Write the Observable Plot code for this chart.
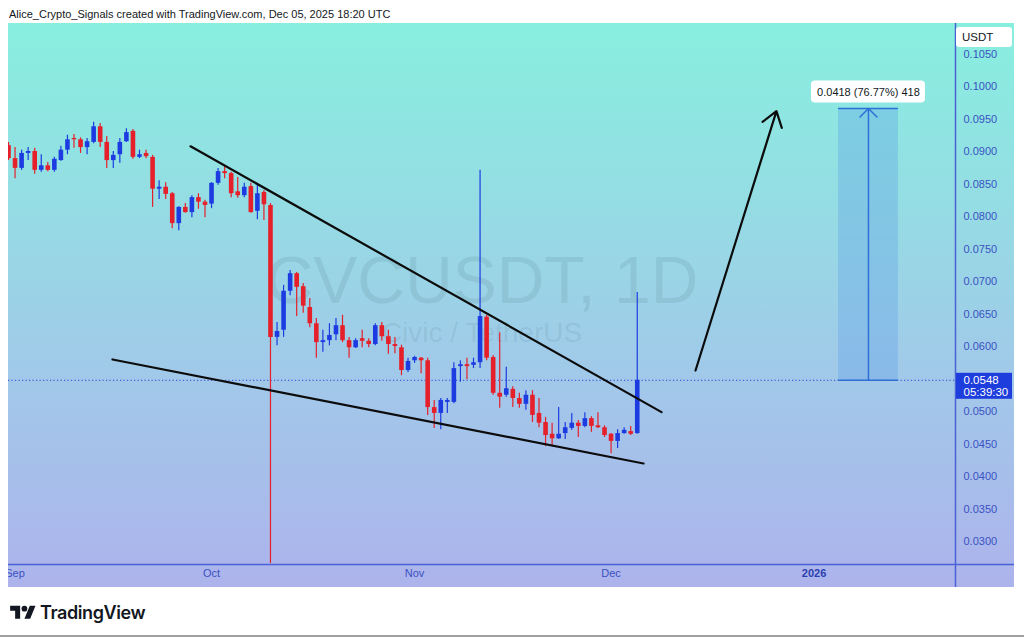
<!DOCTYPE html>
<html>
<head>
<meta charset="utf-8">
<script src="https://cdn.jsdelivr.net/npm/d3@7"></script>
<script src="https://cdn.jsdelivr.net/npm/@observablehq/plot@0.6"></script>
<style>
  html, body { margin:0; padding:0; background:#fff; }
  body { width:1024px; height:638px; position:relative; overflow:hidden; font-family:"Liberation Sans", Arial, sans-serif; }
  #header { position:absolute; left:9px; top:8px; font-size:11px; color:#131722; white-space:nowrap; }
  #chart { position:absolute; left:8px; top:23px; }
  #currency { position:absolute; left:956px; top:27px; width:56px; height:20px; background:#fff; border-radius:3px; font-size:11.5px; line-height:20px; padding-left:6px; box-sizing:border-box; color:#131722; }
  #footer { position:absolute; left:10px; top:602px; display:flex; align-items:center; gap:4px; }
  #footer span { font-family: Inter, "Liberation Sans", sans-serif; font-weight:600; font-size:18px; color:#131722; letter-spacing:-0.4px; }
  #rule { position:absolute; left:0; top:635px; width:1024px; height:2px; background:#a0a0a0; }
</style>
</head>
<body>
<div id="header"></div>
<div id="chart"></div>
<div id="currency"></div>
<div id="footer"><svg width="26" height="20" viewBox="0 0 36 28"><path d="M14 22H7V11H0V4h14v18zM28 22h-8l7.5-18h8L28 22z" fill="#131722"/><circle cx="20" cy="8" r="4" fill="#131722"/></svg><span id="brand"></span></div>
<div id="rule"></div>
<script>
// ---------- data ----------
const headerText = "Alice_Crypto_Signals created with TradingView.com, Dec 05, 2025 18:20 UTC";
const brandText = "TradingView";
const currency = "USDT";
const symbolText = "CVCUSDT, 1D";
const descText = "Civic / TetherUS";
const startDate = "2025-08-31"; // first daily candle

const open = [
  0.0909,0.0889,0.0874,0.0897,0.0900,0.0871,0.0878,0.0871,0.0886,0.0902,
  0.0920,0.0918,0.0906,0.0914,0.0938,0.0914,0.0886,0.0895,0.0915,0.0931,
  0.0891,0.0897,0.0891,0.0842,0.0845,0.0835,0.0789,0.0814,0.0806,0.0829,
  0.0822,0.0819,0.0851,0.0869,0.0866,0.0838,0.0832,0.0846,0.0808,0.0837,
  0.0817,0.0614,0.0625,0.0685,0.0712,0.0692,0.0660,0.0635,0.0606,0.0609,
  0.0618,0.0632,0.0609,0.0598,0.0612,0.0608,0.0603,0.0632,0.0615,0.0603,
  0.0598,0.0563,0.0578,0.0582,0.0578,0.0506,0.0497,0.0514,0.0514,0.0569,
  0.0572,0.0571,0.0575,0.0645,0.0583,0.0528,0.0525,0.0534,0.0520,0.0511,
  0.0525,0.0497,0.0483,0.0465,0.0458,0.0466,0.0474,0.0482,0.0477,0.0489,
  0.0478,0.0475,0.0465,0.0454,0.0466,0.0469,0.0466];
const high = [
  0.0914,0.0906,0.0902,0.0906,0.0905,0.0895,0.0883,0.0891,0.0908,0.0925,
  0.0926,0.0921,0.0920,0.0945,0.0943,0.0923,0.0900,0.0920,0.0935,0.0934,
  0.0902,0.0902,0.0894,0.0855,0.0852,0.0837,0.0815,0.0820,0.0832,0.0835,
  0.0825,0.0852,0.0874,0.0878,0.0868,0.0860,0.0851,0.0851,0.0848,0.0840,
  0.0820,0.0637,0.0694,0.0717,0.0714,0.0697,0.0674,0.0643,0.0625,0.0635,
  0.0643,0.0648,0.0614,0.0612,0.0625,0.0612,0.0635,0.0637,0.0625,0.0614,
  0.0602,0.0582,0.0585,0.0583,0.0582,0.0517,0.0520,0.0520,0.0575,0.0578,
  0.0582,0.0582,0.0871,0.0648,0.0586,0.0621,0.0568,0.0538,0.0528,0.0532,
  0.0532,0.0520,0.0491,0.0482,0.0506,0.0483,0.0497,0.0486,0.0498,0.0492,
  0.0498,0.0478,0.0466,0.0472,0.0475,0.0477,0.0683];
const low = [
  0.0886,0.0858,0.0871,0.0886,0.0865,0.0868,0.0869,0.0868,0.0885,0.0895,
  0.0905,0.0897,0.0895,0.0912,0.0906,0.0874,0.0874,0.0882,0.0914,0.0888,
  0.0889,0.0889,0.0814,0.0826,0.0826,0.0781,0.0778,0.0805,0.0798,0.0811,
  0.0798,0.0812,0.0848,0.0858,0.0829,0.0828,0.0829,0.0805,0.0795,0.0794,
  0.0266,0.0601,0.0614,0.0678,0.0646,0.0651,0.0629,0.0582,0.0591,0.0601,
  0.0609,0.0606,0.0582,0.0597,0.0598,0.0598,0.0601,0.0608,0.0588,0.0589,
  0.0555,0.0560,0.0574,0.0558,0.0494,0.0474,0.0472,0.0497,0.0512,0.0545,
  0.0549,0.0566,0.0566,0.0578,0.0525,0.0505,0.0522,0.0506,0.0505,0.0502,
  0.0483,0.0475,0.0446,0.0446,0.0457,0.0457,0.0471,0.0460,0.0475,0.0468,
  0.0474,0.0460,0.0435,0.0443,0.0465,0.0463,0.0465];
const close = [
  0.0889,0.0874,0.0897,0.0900,0.0871,0.0878,0.0871,0.0888,0.0902,0.0918,
  0.0918,0.0906,0.0915,0.0938,0.0914,0.0886,0.0894,0.0914,0.0929,0.0891,
  0.0895,0.0892,0.0842,0.0845,0.0834,0.0789,0.0814,0.0806,0.0829,0.0822,
  0.0817,0.0851,0.0869,0.0866,0.0835,0.0832,0.0845,0.0806,0.0835,0.0818,
  0.0614,0.0623,0.0685,0.0712,0.0691,0.0662,0.0635,0.0606,0.0609,0.0617,
  0.0632,0.0609,0.0598,0.0609,0.0608,0.0603,0.0632,0.0615,0.0603,0.0600,
  0.0563,0.0577,0.0583,0.0578,0.0506,0.0497,0.0517,0.0517,0.0566,0.0572,
  0.0569,0.0575,0.0646,0.0582,0.0528,0.0522,0.0535,0.0520,0.0511,0.0525,
  0.0494,0.0482,0.0463,0.0458,0.0465,0.0475,0.0482,0.0477,0.0489,0.0477,
  0.0475,0.0463,0.0454,0.0466,0.0471,0.0465,0.0548];

const xTickDates  = ["2025-09-01","2025-10-01","2025-11-01","2025-12-01","2026-01-01"];
const xTickLabels = ["Sep","Oct","Nov","Dec","2026"];
const yTicks = [0.030,0.035,0.040,0.045,0.050,0.055,0.060,0.065,0.070,0.075,0.080,0.085,0.090,0.095,0.100,0.105];

// drawings
const upperTrend = [{date:"2025-09-27T19:00Z", price:0.0908},{date:"2025-12-08T17:00Z", price:0.0499}];
const lowerTrend = [{date:"2025-09-15T21:00Z", price:0.0580},{date:"2025-12-05T23:00Z", price:0.0420}];
const targetArrow = [{x1:"2025-12-13T21:30Z", y1:0.0563, x2:"2025-12-26T06:00Z", y2:0.0962}];
const priceRange = [{x1:"2026-01-04T17:30Z", x2:"2026-01-13T21:00Z", from:0.0548, to:0.0966, label:"0.0418 (76.77%) 418"}];
const lastPrice = 0.0548;
const lastPriceLabel = "0.0548";
const countdown = "05:39:30";

// ---------- build ----------
document.getElementById("header").textContent = headerText;
document.getElementById("brand").textContent = brandText;
document.getElementById("currency").textContent = currency;

const t0 = new Date(startDate);
const candles = open.map((o, i) => ({
  date: d3.utcDay.offset(t0, i), open: o, high: high[i], low: low[i], close: close[i]
}));
const BULL = "#1c3ce2", BEAR = "#e6202a";
const col = d => d.close >= d.open ? BULL : BEAR;
const pd = s => new Date(s);
const up = upperTrend.map(d => ({date: pd(d.date), price: d.price}));
const lo = lowerTrend.map(d => ({date: pd(d.date), price: d.price}));
const arr = targetArrow.map(d => ({x1: pd(d.x1), y1: d.y1, x2: pd(d.x2), y2: d.y2}));
const rng = priceRange.map(d => ({...d, x1: pd(d.x1), x2: pd(d.x2), mid: new Date((pd(d.x1).getTime() + pd(d.x2).getTime()) / 2)}));
const ticks = xTickDates.map((d, i) => ({date: pd(d), label: xTickLabels[i]}));
const isYear = d => /^\d{4}$/.test(d.label);

const xDomain = [new Date("2025-08-31T00:00Z"), new Date("2026-01-22T14:10Z")];
const yDomain = [0.02646, 0.10969];
const AXIS_BLUE = "#3a52c2";
const LINE_BLUE = "#4a62d4";

const chart = Plot.plot({
  width: 1006, height: 564,
  marginLeft: 0, marginRight: 59, marginTop: 0, marginBottom: 23,
  x: {type: "utc", domain: xDomain, axis: null},
  y: {domain: yDomain},
  style: {
    background: "linear-gradient(180deg, #88efdf 0%, #93dfe3 28%, #a1c9e9 62%, #adb3ec 100%)",
    fontFamily: '"Liberation Sans", Arial, sans-serif',
    fontSize: "11px",
    color: AXIS_BLUE,
    overflow: "hidden"
  },
  marks: [
    // watermark
    Plot.text([symbolText], {text: d => d, frameAnchor: "middle", dy: -12, fontSize: 66, fill: "#2f4f5f", fillOpacity: 0.11}),
    Plot.text([descText], {text: d => d, frameAnchor: "middle", dy: 39, fontSize: 28, fill: "#2f4f5f", fillOpacity: 0.11}),
    // last price dotted line
    Plot.ruleY([lastPrice], {stroke: "#2540d8", strokeWidth: 1, strokeDasharray: "1.2,2.3"}),
    // price range tool
    Plot.rect(rng, {x1: "x1", x2: "x2", y1: "from", y2: "to", fill: "#5a9ae6", fillOpacity: 0.32}),
    Plot.ruleY(rng, {y: "to", x1: "x1", x2: "x2", stroke: "#2e6fd8", strokeWidth: 1.5}),
    Plot.ruleY(rng, {y: "from", x1: "x1", x2: "x2", stroke: "#2e6fd8", strokeWidth: 1.5}),
    Plot.arrow(rng, {x1: "mid", x2: "mid", y1: "from", y2: "to", stroke: "#2e6fd8", strokeWidth: 1.5, headLength: 12, headAngle: 90}),
    Plot.rect(rng, {x1: "mid", x2: "mid", y1: "to", y2: "to", insetLeft: -57, insetRight: -57, insetTop: -27.5, insetBottom: 5.5, fill: "white", rx: 4}),
    Plot.text(rng, {x: "mid", y: "to", text: "label", dy: -16.5, fontSize: 11, fill: "#131722"}),
    // candles
    Plot.ruleX(candles, {x: "date", y1: "low", y2: "high", stroke: col, strokeWidth: 1.2}),
    Plot.ruleX(candles, {x: "date", y1: "open", y2: "close", stroke: col, strokeWidth: 4.6}),
    // trendlines & arrow
    Plot.line(up, {x: "date", y: "price", stroke: "#0c0c0c", strokeWidth: 2.2}),
    Plot.line(lo, {x: "date", y: "price", stroke: "#0c0c0c", strokeWidth: 2.2}),
    Plot.arrow(arr, {x1: "x1", y1: "y1", x2: "x2", y2: "y2", stroke: "#0c0c0c", strokeWidth: 2.2, headLength: 12, headAngle: 70}),
    // axes frame lines
    Plot.ruleX([xDomain[1]], {stroke: LINE_BLUE, strokeWidth: 1.5, insetBottom: -23}),
    Plot.ruleY([yDomain[0]], {stroke: LINE_BLUE, strokeWidth: 1.5, insetRight: -59}),
    // price axis
    Plot.axisY({anchor: "right", ticks: yTicks, tickFormat: d3.format(".4f"), tickSize: 0, tickPadding: 8, fill: AXIS_BLUE, label: null}),
    // time axis labels
    Plot.text(ticks.filter(d => !isYear(d)), {x: "date", text: "label", frameAnchor: "bottom", dy: 12, fill: AXIS_BLUE}),
    Plot.text(ticks.filter(isYear), {x: "date", text: "label", frameAnchor: "bottom", dy: 12, fill: "#2b3fb0", fontWeight: "bold"}),
    // last price label
    Plot.rect([{x: xDomain[1], y: lastPrice}], {x1: "x", x2: "x", y1: "y", y2: "y", insetLeft: 1, insetRight: -57, insetTop: -7, insetBottom: -19, fill: "#1d3ddc"}),
    Plot.text([{x: xDomain[1], y: lastPrice, t: lastPriceLabel}], {x: "x", y: "y", text: "t", dx: 8, textAnchor: "start", fill: "white", fontSize: 11.5}),
    Plot.text([{x: xDomain[1], y: lastPrice, t: countdown}], {x: "x", y: "y", text: "t", dx: 8, dy: 12, textAnchor: "start", fill: "white", fontSize: 11.5})
  ]
});
document.getElementById("chart").appendChild(chart);
</script>
</body>
</html>
